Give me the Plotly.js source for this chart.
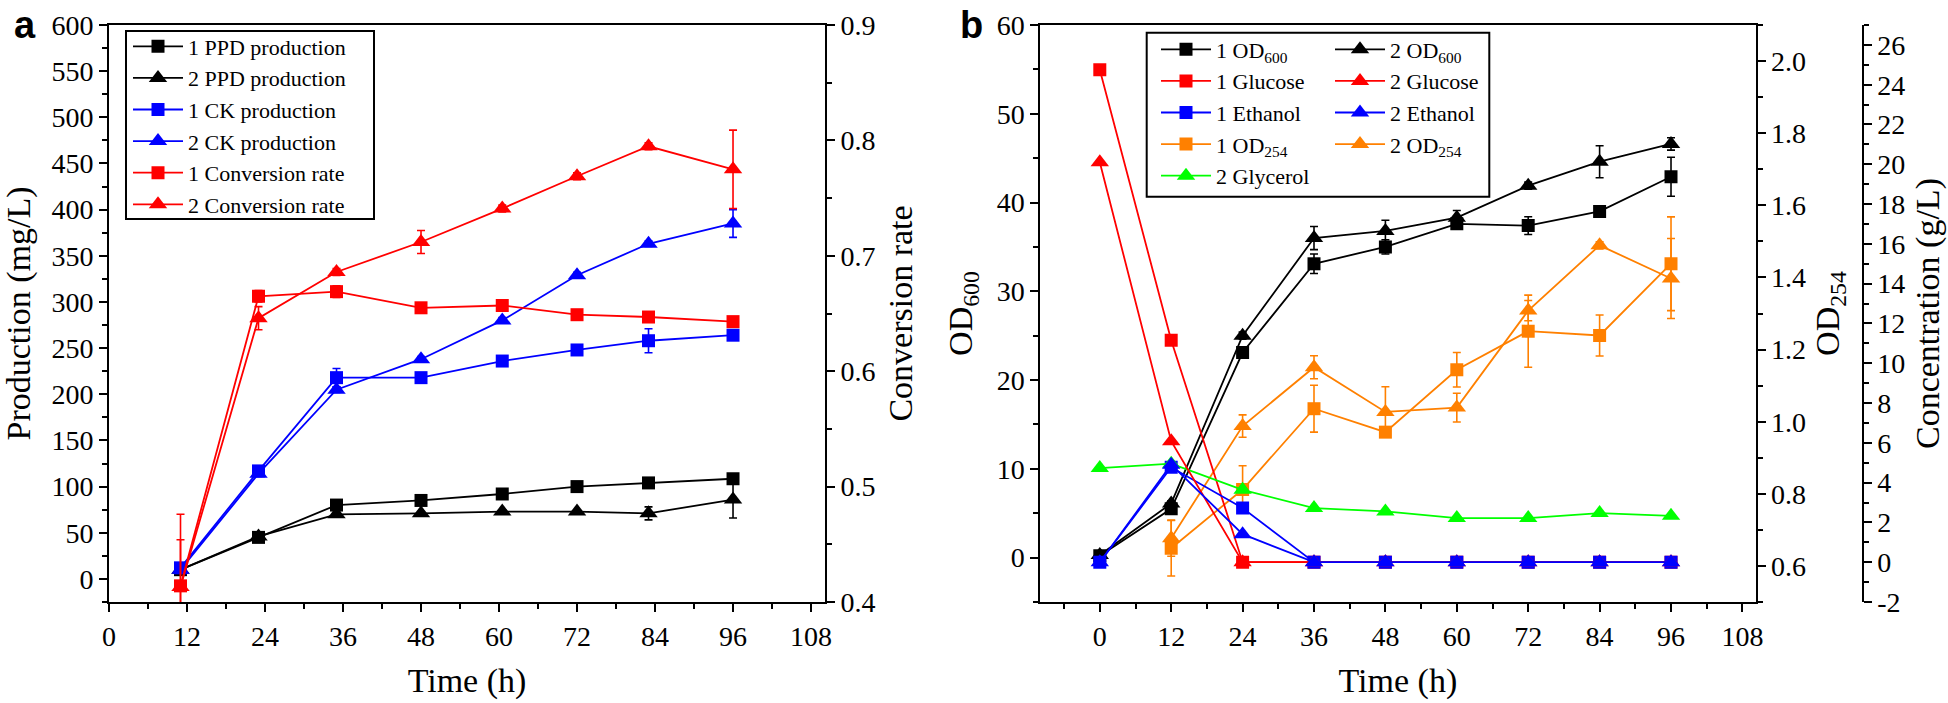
<!DOCTYPE html>
<html><head><meta charset="utf-8">
<script src="https://cdn.plot.ly/plotly-3.0.1.min.js"></script>
<style>html,body{margin:0;padding:0;background:#fff}#chart{width:1948px;height:703px}</style>
</head><body><div id="chart"></div>
<script>
// ---------- Panel a data ----------
const timeA = [11, 23, 35, 48, 60.5, 72, 83, 96];
const ppd1 = [10, 45, 80, 85, 92, 100, 104, 108.5];
const ppd1Err = [2, 2, 3, 3, 2, 2, 3, 4];
const ppd2 = [10, 46, 70, 71, 73, 73, 71, 86];
const ppd2Err = [2, 3, 2, 2, 2, 2, 7, 20];
const ck1 = [12, 117, 218, 218, 236, 248, 258, 264];
const ck1Err = [3, 4, 10, 3, 3, 3, 13, 3];
const ck2 = [10, 114, 205, 238, 280, 329, 363, 385];
const ck2Err = [2, 3, 3, 3, 3, 3, 3, 15];
const conv1 = [0.414, 0.665, 0.669, 0.655, 0.657, 0.649, 0.647, 0.643];
const conv1Err = [0.04, 0.005, 0.005, 0.003, 0.003, 0.003, 0.003, 0.003];
const conv2 = [0.413, 0.646, 0.686, 0.712, 0.741, 0.769, 0.795, 0.775];
const conv2Err = [0.063, 0.01, 0.003, 0.01, 0.003, 0.003, 0.003, 0.034];

// ---------- Panel b data ----------
const timeB = [0, 12, 24, 36, 48, 60, 72, 84, 96];
const od600_1 = [0.2, 5.5, 23.1, 33.1, 35.0, 37.6, 37.4, 39.0, 42.9];
const od600_1Err = [0.3, 0.3, 0.4, 1.1, 0.8, 0.5, 1.0, 0.4, 2.2];
const od600_2 = [0.3, 6.1, 25.0, 36.0, 36.8, 38.3, 41.9, 44.6, 46.6];
const od600_2Err = [0.3, 0.3, 0.4, 1.3, 1.2, 0.8, 0.4, 1.8, 0.7];
const glucose1 = [24.75, 11.16, 0, 0, 0, 0, 0, 0, 0];
const glucose2 = [20.1, 6.08, 0, 0, 0, 0, 0, 0, 0];
const ethanol1 = [0, 4.77, 2.72, 0, 0, 0, 0, 0, 0];
const ethanol2 = [0, 4.9, 1.41, 0, 0, 0, 0, 0, 0];
const od254_1 = [null, 0.649, 0.812, 1.036, 0.971, 1.144, 1.251, 1.239, 1.438];
const od254_1Err = [0, 0.077, 0.066, 0.065, 0.01, 0.048, 0.1, 0.057, 0.13];
const od254_2 = [null, 0.677, 0.988, 1.151, 1.027, 1.039, 1.308, 1.489, 1.397];
const od254_2Err = [0, 0.05, 0.031, 0.032, 0.07, 0.04, 0.028, 0.01, 0.111];
const glycerol2 = [4.73, 4.95, 3.64, 2.72, 2.55, 2.22, 2.22, 2.47, 2.33];

const concTickVals = [-2, 0, 2, 4, 6, 8, 10, 12, 14, 16, 18, 20, 22, 24, 26];
const concTickLabels = ['-2', '0', '2', '4', '6', '8', '10', '12', '14', '16', '18', '20', '22', '24', '26'];

const BLACK = '#000000', RED = '#ff0000', BLUE = '#0000ff', ORANGE = '#ff8000', GREEN = '#00ff00';
const SERIF = 'Liberation Serif, Times New Roman, serif';

function tr(name, x, y, err, color, symbol, xa, ya, legend) {
  const t = {
    type: 'scatter', mode: 'lines+markers', name: name, x: x, y: y,
    xaxis: xa, yaxis: ya, legend: legend,
    line: { color: color, width: 1.8 },
    marker: { symbol: symbol, size: symbol === 'square' ? 13 : 16, color: color, line: { width: 0 } },
    cliponaxis: true
  };
  if (err) t.error_y = { type: 'data', array: err, visible: true, color: color, thickness: 1.6, width: 4 };
  return t;
}

const data = [
  // panel a
  tr('1 PPD production', timeA, ppd1, ppd1Err, BLACK, 'square', 'x', 'y', 'legend'),
  tr('2 PPD production', timeA, ppd2, ppd2Err, BLACK, 'triangle-up', 'x', 'y', 'legend'),
  tr('1 CK production', timeA, ck1, ck1Err, BLUE, 'square', 'x', 'y', 'legend'),
  tr('2 CK production', timeA, ck2, ck2Err, BLUE, 'triangle-up', 'x', 'y', 'legend'),
  tr('1 Conversion rate', timeA, conv1, conv1Err, RED, 'square', 'x', 'y2', 'legend'),
  tr('2 Conversion rate', timeA, conv2, conv2Err, RED, 'triangle-up', 'x', 'y2', 'legend'),
  // panel b, column 1 of legend
  tr('1 OD<sub>600</sub>', timeB, od600_1, od600_1Err, BLACK, 'square', 'x2', 'y3', 'legend2'),
  tr('1 Glucose', timeB, glucose1, null, RED, 'square', 'x2', 'y5', 'legend2'),
  tr('1 Ethanol', timeB, ethanol1, null, BLUE, 'square', 'x2', 'y5', 'legend2'),
  tr('1 OD<sub>254</sub>', timeB, od254_1, od254_1Err, ORANGE, 'square', 'x2', 'y4', 'legend2'),
  tr('2 Glycerol', timeB, glycerol2, null, GREEN, 'triangle-up', 'x2', 'y5', 'legend2'),
  // panel b, column 2 of legend
  tr('2 OD<sub>600</sub>', timeB, od600_2, od600_2Err, BLACK, 'triangle-up', 'x2', 'y3', 'legend3'),
  tr('2 Glucose', timeB, glucose2, null, RED, 'triangle-up', 'x2', 'y5', 'legend3'),
  tr('2 Ethanol', timeB, ethanol2, null, BLUE, 'triangle-up', 'x2', 'y5', 'legend3'),
  tr('2 OD<sub>254</sub>', timeB, od254_2, od254_2Err, ORANGE, 'triangle-up', 'x2', 'y4', 'legend3')
];

const W = 1948, H = 703;
const tickFont = { family: SERIF, size: 28, color: '#000' };
const titleFont = { family: SERIF, size: 34, color: '#000' };
function ax(extra) {
  const base = {
    showline: true, linecolor: '#000', linewidth: 2,
    ticks: 'outside', ticklen: 8, tickwidth: 2, tickcolor: '#000',
    showgrid: false, zeroline: false, tickfont: Object.assign({}, tickFont), automargin: false,
    minor: { ticks: 'outside', ticklen: 5, tickwidth: 2, tickcolor: '#000', showgrid: false }
  };
  const o = Object.assign(base, extra);
  if (extra.minorDtick !== undefined) {
    o.minor = Object.assign({}, base.minor, { tickmode: 'linear', dtick: extra.minorDtick, tick0: extra.minorTick0 || 0 });
    delete o.minorDtick; delete o.minorTick0;
  }
  return o;
}
const yDom = [(H - 602) / H, (H - 25) / H];
const legendFont = { family: SERIF, size: 22, color: '#000' };
function leg(xpx, ypx) {
  return { x: xpx / W, y: 1 - ypx / H, xanchor: 'left', yanchor: 'top', borderwidth: 0,
    bgcolor: 'rgba(0,0,0,0)', font: Object.assign({}, legendFont), tracegroupgap: 0, itemwidth: 50 };
}
function box(x0, x1, y0, y1) {
  return { type: 'rect', xref: 'paper', yref: 'paper', x0: x0 / W, x1: x1 / W, y0: 1 - y1 / H, y1: 1 - y0 / H,
    line: { color: '#000', width: 2 }, fillcolor: 'rgba(0,0,0,0)', layer: 'above' };
}

const layout = {
  width: W, height: H,
  font: { family: SERIF, color: '#000' },
  margin: { l: 0, r: 0, t: 0, b: 0, autoexpand: false },
  paper_bgcolor: '#fff', plot_bgcolor: 'rgba(0,0,0,0)',
  showlegend: true,
  xaxis: ax({ domain: [109 / W, 825 / W], range: [0, 110.15], anchor: 'y', tick0: 0, dtick: 12,
    minorDtick: 6, mirror: true,
    title: { text: 'Time (h)', font: titleFont, standoff: 18 } }),
  yaxis: ax({ domain: yDom, range: [-25, 600], anchor: 'x', tick0: 0, dtick: 50, minorDtick: 25,
    title: { text: 'Production (mg/L)', font: titleFont, standoff: 14 } }),
  yaxis2: ax({ overlaying: 'y', side: 'right', anchor: 'x', range: [0.4, 0.9001], tick0: 0.4, dtick: 0.1,
    minorDtick: 0.05, minorTick0: 0.4, tickformat: '.1f',
    title: { text: 'Conversion rate', font: titleFont, standoff: 14 } }),
  xaxis2: ax({ domain: [1040.3 / W, 1755.5 / W], range: [-10, 110.2], anchor: 'y3', tick0: 0, dtick: 12,
    minorDtick: 6, mirror: true,
    title: { text: 'Time (h)', font: titleFont, standoff: 18 } }),
  yaxis3: ax({ domain: yDom, range: [-5, 60], anchor: 'x2', tick0: 0, dtick: 10, minorDtick: 5,
    title: { text: 'OD<sub>600</sub>', font: titleFont, standoff: 14 } }),
  yaxis4: ax({ overlaying: 'y3', side: 'right', anchor: 'x2', range: [0.5, 2.1], tick0: 0.6, dtick: 0.2,
    minorDtick: 0.1, minorTick0: 0.5, tickformat: '.1f',
    title: { text: 'OD<sub>254</sub>', font: titleFont, standoff: 10 } }),
  yaxis5: ax({ overlaying: 'y3', side: 'right', anchor: 'free', position: 1862.7 / W, range: [-2, 27],
    tickmode: 'array', tickvals: concTickVals, ticktext: concTickLabels, minorDtick: 1, minorTick0: -2,
    title: { text: 'Concentration (g/L)', font: titleFont, standoff: 10 } }),
  legend: leg(128, 25.5),
  legend2: leg(1156, 28.5),
  legend3: leg(1330, 28.5),
  shapes: [
    box(126, 374, 31, 219),
    box(1146.7, 1489.3, 32.7, 196.7)
  ],
  annotations: [
    { text: '<b>a</b>', xref: 'paper', yref: 'paper', x: 12 / W, y: 1 - 2 / H, xanchor: 'left', yanchor: 'top',
      showarrow: false, font: { family: 'Liberation Sans, Arial, sans-serif', size: 38, color: '#000' } },
    { text: '<b>b</b>', xref: 'paper', yref: 'paper', x: 958 / W, y: 1 - 2 / H, xanchor: 'left', yanchor: 'top',
      showarrow: false, font: { family: 'Liberation Sans, Arial, sans-serif', size: 38, color: '#000' } }
  ]
};

Plotly.newPlot('chart', data, layout, { displayModeBar: false, staticPlot: true });
</script>
</body></html>
